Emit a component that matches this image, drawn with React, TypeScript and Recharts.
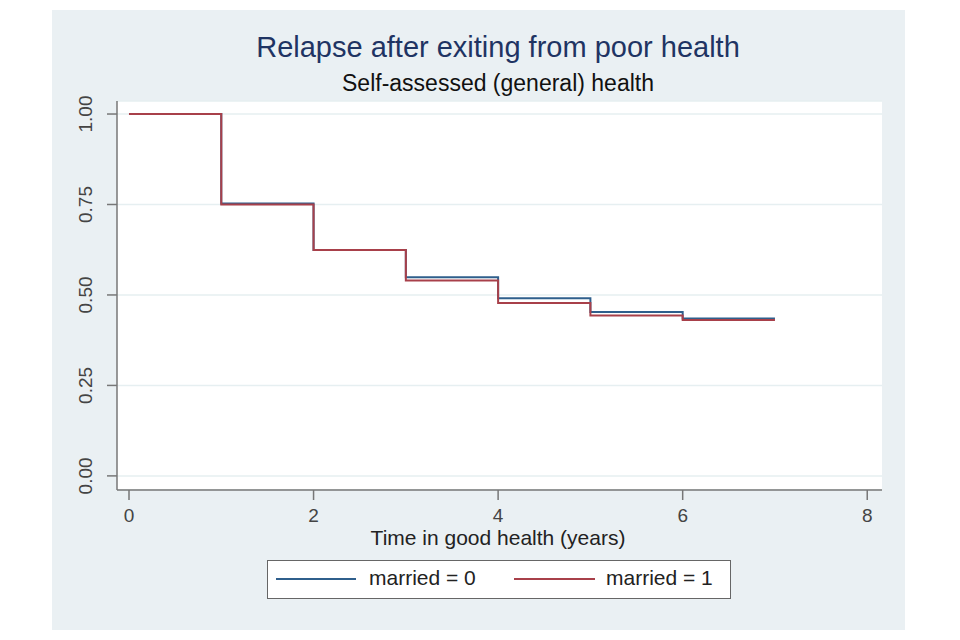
import React from "react";
import { LineChart, Line, XAxis, YAxis, CartesianGrid } from "recharts";

const times = [0, 1, 2, 3, 4, 5, 6, 7];
const married0 = [1.0, 0.753, 0.624, 0.549, 0.491, 0.453, 0.435, 0.435];
const married1 = [1.0, 0.75, 0.624, 0.54, 0.478, 0.443, 0.431, 0.431];
const xTicks = [0, 2, 4, 6, 8];
const yTicks = [0, 0.25, 0.5, 0.75, 1];

const data = times.map((t, i) => ({ t, m0: married0[i], m1: married1[i] }));

const FONT = "'Liberation Sans', Arial, sans-serif";
const BLUE = "#2f5f8c";
const RED = "#a8404a";

function YTick(props: any) {
  const { x, y, payload } = props;
  return (
    <text
      x={x - 13}
      y={y}
      transform={`rotate(-90 ${x - 13} ${y})`}
      textAnchor="middle"
      fontSize={19}
      fill="#444"
      fontFamily={FONT}
    >
      {payload.value.toFixed(2)}
    </text>
  );
}

function XTick(props: any) {
  const { x, y, payload } = props;
  return (
    <text x={x} y={y + 20} textAnchor="middle" fontSize={19} fill="#444" fontFamily={FONT}>
      {payload.value}
    </text>
  );
}

export default function App() {
  return (
    <div style={{ position: "absolute", left: 0, top: 0, width: 960, height: 640, background: "#fff", fontFamily: FONT }}>
      <div style={{ position: "absolute", left: 52, top: 10, width: 853, height: 620, background: "#eaf0f3" }} />
      <div style={{ position: "absolute", left: 0, top: 31, width: 996, textAlign: "center", fontSize: 29, color: "#1f3463" }}>
        Relapse after exiting from poor health
      </div>
      <div style={{ position: "absolute", left: 0, top: 70, width: 996, textAlign: "center", fontSize: 23, color: "#111" }}>
        Self-assessed (general) health
      </div>
      <div style={{ position: "absolute", left: 117, top: 101 }}>
        <div style={{ width: 765, height: 389, background: "#fff" }} />
      </div>
      <div style={{ position: "absolute", left: 0, top: 0 }}>
        <LineChart width={960} height={640} data={data} margin={{ top: 101, right: 78, bottom: 120, left: 57 }}>
          <CartesianGrid vertical={false} stroke="#e6eff1" strokeWidth={1.5} />
          <XAxis
            dataKey="t"
            type="number"
            domain={[-0.13, 8.16]}
            ticks={xTicks}
            height={30}
            tickSize={10}
            stroke="#777"
            strokeWidth={1.5}
            tick={<XTick />}
            allowDataOverflow
          />
          <YAxis
            type="number"
            domain={[-0.039, 1.036]}
            ticks={yTicks}
            width={60}
            tickSize={10}
            stroke="#777"
            strokeWidth={1.5}
            tick={<YTick />}
            allowDataOverflow
          />
          <Line type="stepAfter" dataKey="m0" stroke={BLUE} strokeWidth={2} dot={false} isAnimationActive={false} />
          <Line type="stepAfter" dataKey="m1" stroke={RED} strokeWidth={2} dot={false} isAnimationActive={false} />
        </LineChart>
      </div>
      <div style={{ position: "absolute", left: 0, top: 526, width: 996, textAlign: "center", fontSize: 21, color: "#222" }}>
        Time in good health (years)
      </div>
      <div
        style={{
          position: "absolute",
          left: 267,
          top: 560,
          width: 464,
          height: 39,
          background: "#fff",
          border: "1.5px solid #666",
          boxSizing: "border-box",
          fontSize: 21,
          color: "#222",
        }}
      >
        <div style={{ position: "absolute", left: 8, top: 17, width: 80, height: 0, borderTop: `2px solid ${BLUE}` }} />
        <div style={{ position: "absolute", left: 101, top: 5 }}>married = 0</div>
        <div style={{ position: "absolute", left: 246, top: 17, width: 81, height: 0, borderTop: `2px solid ${RED}` }} />
        <div style={{ position: "absolute", left: 338, top: 5 }}>married = 1</div>
      </div>
    </div>
  );
}
